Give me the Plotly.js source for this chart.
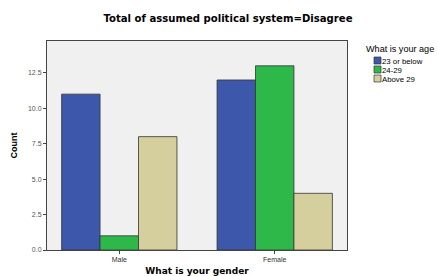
<!DOCTYPE html>
<html><head><meta charset="utf-8">
<script src="https://cdn.plot.ly/plotly-3.0.1.min.js"></script>
<style>html,body{margin:0;padding:0;background:#fff}#c{width:438px;height:276px}</style>
</head><body><div id="c"></div>
<script>
const categories = ["Male", "Female"];
const seriesNames = ["23 or below", "24-29", "Above 29"];
const below23 = [11, 12];
const age24to29 = [1, 13];
const above29 = [8, 4];
const yTickVals = [0, 2.5, 5, 7.5, 10, 12.5];
const yTickText = ["0.0", "2.5", "5.0", "7.5", "10.0", "12.5"];
const legendTitle = "What is your age";
const colors = ["#3d57ab", "#2fb84a", "#d4cf9c"];
const values = [below23, age24to29, above29];

const W = 438, H = 276;
const traces = seriesNames.map((n, i) => ({
  type: "bar", name: n, x: categories, y: values[i],
  marker: {color: colors[i], line: {color: "#333333", width: 0.8}}
}));

const shapes = [], annotations = [];
const px = v => (v - 47) / 300, py = v => 1 - (v - 41) / 209;
annotations.push({xref: "paper", yref: "paper", x: px(364), y: py(48.5),
  xanchor: "left", yanchor: "middle", text: legendTitle, showarrow: false,
  font: {family: "Liberation Sans, Arial", size: 9.1, color: "#000"}});
const rowY = [60.5, 69.5, 78.5];
seriesNames.forEach((n, i) => {
  shapes.push({type: "rect", xref: "paper", yref: "paper",
    x0: px(374), x1: px(381), y0: py(rowY[i] + 3.5), y1: py(rowY[i] - 3.5),
    fillcolor: colors[i], line: {color: "#333", width: 0.7}});
  annotations.push({xref: "paper", yref: "paper", x: px(381), y: py(rowY[i]),
    xanchor: "left", yanchor: "middle", text: n, showarrow: false, height: 8, borderpad: 0,
    font: {family: "Liberation Sans, Arial", size: 7.8, color: "#000"}});
});

const layout = {
  width: W, height: H,
  margin: {l: 47, r: 91, t: 41, b: 26},
  paper_bgcolor: "#ffffff", plot_bgcolor: "#f0f0f0",
  barmode: "group", bargap: 0.258, bargroupgap: 0,
  showlegend: false, shapes, annotations,
  title: {text: "<b>Total of assumed political system=Disagree</b>", font: {family: "DejaVu Sans, Verdana", size: 10.1, color: "#000"}, x: 228 / W, xanchor: "center", y: 1 - 18 / H, yanchor: "middle"},
  xaxis: {type: "category", range: [-0.465, 1.465], showgrid: false, zeroline: false,
    showline: true, linecolor: "#444", linewidth: 1, mirror: true,
    ticks: "outside", ticklen: 3, tickcolor: "#444",
    tickfont: {family: "Liberation Sans, Arial", size: 7, color: "#333"},
    title: {text: "<b>What is your gender</b>", font: {family: "DejaVu Sans, Verdana", size: 9, color: "#000"}, standoff: 13}},
  yaxis: {range: [0, 14.75], tickvals: yTickVals, ticktext: yTickText, showgrid: false, zeroline: false,
    showline: true, linecolor: "#444", linewidth: 1, mirror: true,
    ticks: "outside", ticklen: 3, tickcolor: "#444",
    tickfont: {family: "Liberation Sans, Arial", size: 7, color: "#555"},
    title: {text: "<b>Count</b>", font: {family: "Liberation Sans, Arial", size: 9, color: "#000"}, standoff: 8}}
};
Plotly.newPlot("c", traces, layout, {displayModeBar: false, staticPlot: true});
</script></body></html>
